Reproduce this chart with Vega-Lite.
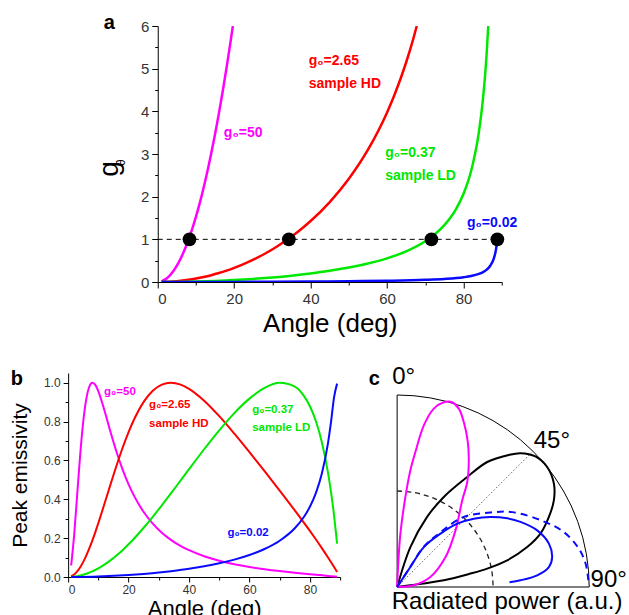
{
"$schema": "https://vega.github.io/schema/vega-lite/v6.json",
"padding": {"left": 9, "top": 12, "right": 0, "bottom": 0},
"config": {
  "view": {"stroke": null},
  "font": "Liberation Sans",
  "axis": {"grid": false, "domainColor": "#000", "tickColor": "#000", "labelColor": "#333", "titleColor": "#000", "titleFontWeight": "normal", "labelFont": "Liberation Sans", "titleFont": "Liberation Sans", "domainWidth": 1, "tickWidth": 1}
},
"datasets": {
  "gA": [
    {"series":"50","deg":1,"g":0.0152},{"series":"50","deg":2,"g":0.0609},{"series":"50","deg":3,"g":0.1371},{"series":"50","deg":4,"g":0.2439},{"series":"50","deg":5,"g":0.3813},{"series":"50","deg":6,"g":0.5493},{"series":"50","deg":7,"g":0.7482},{"series":"50","deg":8,"g":0.978},{"series":"50","deg":9,"g":1.2389},{"series":"50","deg":10,"g":1.531},{"series":"50","deg":11,"g":1.854},{"series":"50","deg":12,"g":2.2097},{"series":"50","deg":13,"g":2.597},{"series":"50","deg":14,"g":3.0159},{"series":"50","deg":15,"g":3.4675},{"series":"50","deg":16,"g":3.9519},{"series":"50","deg":17,"g":4.469},{"series":"50","deg":18,"g":5.0203},{"series":"50","deg":19,"g":5.605},{"series":"50","deg":19.65,"g":6.0},
    {"series":"2.65","deg":1,"g":0.0008},{"series":"2.65","deg":2,"g":0.0032},{"series":"2.65","deg":4,"g":0.0129},{"series":"2.65","deg":6,"g":0.0291},{"series":"2.65","deg":8,"g":0.0518},{"series":"2.65","deg":10,"g":0.0811},{"series":"2.65","deg":12,"g":0.1171},{"series":"2.65","deg":14,"g":0.1598},{"series":"2.65","deg":16,"g":0.2095},{"series":"2.65","deg":18,"g":0.2661},{"series":"2.65","deg":20,"g":0.3299},{"series":"2.65","deg":22,"g":0.4011},{"series":"2.65","deg":25,"g":0.5222},{"series":"2.65","deg":28,"g":0.6615},{"series":"2.65","deg":31,"g":0.8201},{"series":"2.65","deg":34,"g":0.9995},{"series":"2.65","deg":37,"g":1.2018},{"series":"2.65","deg":40,"g":1.4293},{"series":"2.65","deg":45,"g":1.8738},{"series":"2.65","deg":50,"g":2.4193},{"series":"2.65","deg":55,"g":3.1002},{"series":"2.65","deg":60,"g":3.975},{"series":"2.65","deg":62,"g":4.4005},{"series":"2.65","deg":65,"g":5.1505},{"series":"2.65","deg":67,"g":5.7467},{"series":"2.65","deg":67.76,"g":6.0},
    {"series":"0.37","deg":1,"g":0.0001},{"series":"0.37","deg":5,"g":0.0028},{"series":"0.37","deg":10,"g":0.0113},{"series":"0.37","deg":15,"g":0.0257},{"series":"0.37","deg":20,"g":0.0461},{"series":"0.37","deg":25,"g":0.0729},{"series":"0.37","deg":30,"g":0.1068},{"series":"0.37","deg":35,"g":0.1486},{"series":"0.37","deg":40,"g":0.1996},{"series":"0.37","deg":45,"g":0.2616},{"series":"0.37","deg":50,"g":0.3378},{"series":"0.37","deg":55,"g":0.4329},{"series":"0.37","deg":60,"g":0.555},{"series":"0.37","deg":65,"g":0.7191},{"series":"0.37","deg":70,"g":0.9553},{"series":"0.37","deg":72,"g":1.083},{"series":"0.37","deg":75,"g":1.3338},{"series":"0.37","deg":78,"g":1.7027},{"series":"0.37","deg":80,"g":2.0665},{"series":"0.37","deg":82,"g":2.6071},{"series":"0.37","deg":84,"g":3.5011},{"series":"0.37","deg":85,"g":4.213},{"series":"0.37","deg":86,"g":5.2784},{"series":"0.37","deg":86.47,"g":6.0},
    {"series":"0.02","deg":1,"g":0},{"series":"0.02","deg":10,"g":0.0006},{"series":"0.02","deg":20,"g":0.0025},{"series":"0.02","deg":30,"g":0.0058},{"series":"0.02","deg":40,"g":0.0108},{"series":"0.02","deg":50,"g":0.0183},{"series":"0.02","deg":60,"g":0.03},{"series":"0.02","deg":70,"g":0.0516},{"series":"0.02","deg":75,"g":0.0721},{"series":"0.02","deg":80,"g":0.1117},{"series":"0.02","deg":82,"g":0.1409},{"series":"0.02","deg":84,"g":0.1892},{"series":"0.02","deg":85,"g":0.2277},{"series":"0.02","deg":86,"g":0.2853},{"series":"0.02","deg":87,"g":0.3811},{"series":"0.02","deg":88,"g":0.5724},{"series":"0.02","deg":88.5,"g":0.7635},{"series":"0.02","deg":88.9,"g":1.04}
  ],
  "ruleA": [{"deg":0,"g":1},{"deg":90,"g":1}],
  "dotsA": [{"deg":8.3,"g":1},{"deg":34.3,"g":1},{"deg":71.6,"g":1},{"deg":88.85,"g":1}],
  "labA": [
    {"series":"50","deg":17.3,"g":3.40,"label":"g₀=50"},
    {"series":"2.65","deg":39.5,"g":5.09,"label":"g₀=2.65"},
    {"series":"2.65","deg":39.5,"g":4.55,"label":"sample HD"},
    {"series":"0.37","deg":59.5,"g":2.93,"label":"g₀=0.37"},
    {"series":"0.37","deg":59.5,"g":2.40,"label":"sample LD"},
    {"series":"0.02","deg":80.9,"g":1.30,"label":"g₀=0.02⠀⠀"}
  ],
  "annA": [
    {"k":"panel","deg":-14.1,"g":5.94,"label":"a"},
    {"k":"title","deg":-12.5,"g":2.65,"label":"g"},
    {"k":"sub","deg":-9.6,"g":2.80,"label":"θ"}
  ],
  "eB": [
    {"series":"50","deg":1,"e":0.0591},{"series":"50","deg":2,"e":0.2166},{"series":"50","deg":3,"e":0.4242},{"series":"50","deg":4,"e":0.6305},{"series":"50","deg":5,"e":0.7993},{"series":"50","deg":6,"e":0.9154},{"series":"50","deg":7,"e":0.9793},{"series":"50","deg":8,"e":0.9999},{"series":"50","deg":9,"e":0.9886},{"series":"50","deg":10,"e":0.956},{"series":"50","deg":12,"e":0.858},{"series":"50","deg":14,"e":0.748},{"series":"50","deg":16,"e":0.6447},{"series":"50","deg":18,"e":0.5541},{"series":"50","deg":20,"e":0.4771},{"series":"50","deg":22,"e":0.4124},{"series":"50","deg":25,"e":0.3346},{"series":"50","deg":28,"e":0.2747},{"series":"50","deg":31,"e":0.2281},{"series":"50","deg":34,"e":0.1913},{"series":"50","deg":37,"e":0.1618},{"series":"50","deg":40,"e":0.1379},{"series":"50","deg":45,"e":0.107},{"series":"50","deg":50,"e":0.0839},{"series":"50","deg":55,"e":0.0661},{"series":"50","deg":60,"e":0.0519},{"series":"50","deg":65,"e":0.0403},{"series":"50","deg":70,"e":0.0305},{"series":"50","deg":75,"e":0.022},{"series":"50","deg":80,"e":0.0142},{"series":"50","deg":84,"e":0.0084},{"series":"50","deg":87,"e":0.0042},{"series":"50","deg":89,"e":0.0014},
    {"series":"2.65","deg":1,"e":0.0032},{"series":"2.65","deg":2,"e":0.0128},{"series":"2.65","deg":3,"e":0.0287},{"series":"2.65","deg":4,"e":0.0504},{"series":"2.65","deg":5,"e":0.0777},{"series":"2.65","deg":6,"e":0.11},{"series":"2.65","deg":7,"e":0.1468},{"series":"2.65","deg":8,"e":0.1874},{"series":"2.65","deg":9,"e":0.2313},{"series":"2.65","deg":10,"e":0.2777},{"series":"2.65","deg":12,"e":0.3754},{"series":"2.65","deg":14,"e":0.4753},{"series":"2.65","deg":16,"e":0.5728},{"series":"2.65","deg":18,"e":0.664},{"series":"2.65","deg":20,"e":0.7461},{"series":"2.65","deg":22,"e":0.8173},{"series":"2.65","deg":25,"e":0.9015},{"series":"2.65","deg":28,"e":0.9585},{"series":"2.65","deg":31,"e":0.9902},{"series":"2.65","deg":34,"e":1.0},{"series":"2.65","deg":37,"e":0.9916},{"series":"2.65","deg":40,"e":0.9688},{"series":"2.65","deg":45,"e":0.9075},{"series":"2.65","deg":50,"e":0.8277},{"series":"2.65","deg":55,"e":0.7376},{"series":"2.65","deg":60,"e":0.6424},{"series":"2.65","deg":65,"e":0.5446},{"series":"2.65","deg":70,"e":0.445},{"series":"2.65","deg":75,"e":0.3431},{"series":"2.65","deg":78,"e":0.2802},{"series":"2.65","deg":80,"e":0.2371},{"series":"2.65","deg":82,"e":0.193},{"series":"2.65","deg":84,"e":0.1475},{"series":"2.65","deg":86,"e":0.1004},{"series":"2.65","deg":87,"e":0.0762},{"series":"2.65","deg":88,"e":0.0514},{"series":"2.65","deg":89,"e":0.026},
    {"series":"0.37","deg":1,"e":0.0005},{"series":"0.37","deg":3,"e":0.0041},{"series":"0.37","deg":5,"e":0.0112},{"series":"0.37","deg":8,"e":0.0285},{"series":"0.37","deg":10,"e":0.0443},{"series":"0.37","deg":12,"e":0.0633},{"series":"0.37","deg":14,"e":0.0854},{"series":"0.37","deg":16,"e":0.1104},{"series":"0.37","deg":18,"e":0.1382},{"series":"0.37","deg":20,"e":0.1684},{"series":"0.37","deg":22,"e":0.2009},{"series":"0.37","deg":25,"e":0.2534},{"series":"0.37","deg":28,"e":0.3096},{"series":"0.37","deg":31,"e":0.3687},{"series":"0.37","deg":34,"e":0.4299},{"series":"0.37","deg":37,"e":0.4922},{"series":"0.37","deg":40,"e":0.5548},{"series":"0.37","deg":45,"e":0.6575},{"series":"0.37","deg":50,"e":0.755},{"series":"0.37","deg":55,"e":0.8437},{"series":"0.37","deg":60,"e":0.9181},{"series":"0.37","deg":65,"e":0.9733},{"series":"0.37","deg":70,"e":0.9995},{"series":"0.37","deg":75,"e":0.9795},{"series":"0.37","deg":78,"e":0.9324},{"series":"0.37","deg":80,"e":0.879},{"series":"0.37","deg":82,"e":0.8015},{"series":"0.37","deg":84,"e":0.6912},{"series":"0.37","deg":86,"e":0.5356},{"series":"0.37","deg":87,"e":0.4352},{"series":"0.37","deg":88,"e":0.3154},{"series":"0.37","deg":89,"e":0.1721},
    {"series":"0.02","deg":1,"e":0.0},{"series":"0.02","deg":10,"e":0.0025},{"series":"0.02","deg":20,"e":0.0099},{"series":"0.02","deg":25,"e":0.0157},{"series":"0.02","deg":30,"e":0.0228},{"series":"0.02","deg":34,"e":0.03},{"series":"0.02","deg":40,"e":0.0422},{"series":"0.02","deg":45,"e":0.055},{"series":"0.02","deg":50,"e":0.0704},{"series":"0.02","deg":55,"e":0.0894},{"series":"0.02","deg":60,"e":0.1131},{"series":"0.02","deg":65,"e":0.1441},{"series":"0.02","deg":70,"e":0.1868},{"series":"0.02","deg":75,"e":0.2509},{"series":"0.02","deg":78,"e":0.3087},{"series":"0.02","deg":80,"e":0.3615},{"series":"0.02","deg":82,"e":0.433},{"series":"0.02","deg":84,"e":0.5352},{"series":"0.02","deg":86,"e":0.6908},{"series":"0.02","deg":87,"e":0.7992},{"series":"0.02","deg":88,"e":0.926},{"series":"0.02","deg":89,"e":0.9954}
  ],
  "labB": [
    {"series":"50","deg":11.9,"e":0.939,"label":"g₀=50"},
    {"series":"2.65","deg":26.8,"e":0.870,"label":"g₀=2.65"},
    {"series":"2.65","deg":26.8,"e":0.772,"label":"sample HD"},
    {"series":"0.37","deg":60.9,"e":0.846,"label":"g₀=0.37"},
    {"series":"0.37","deg":60.9,"e":0.751,"label":"sample LD"},
    {"series":"0.02","deg":52.7,"e":0.211,"label":"g₀=0.02"}
  ],
  "annB": [{"deg":-19,"e":0.987,"label":"b"}],
  "polar": [
    {"c":"frame","o":0,"x":0,"y":1},{"c":"frame","o":1,"x":0,"y":0},{"c":"frame","o":2,"x":1,"y":0},{"c":"frame","o":3,"x":0.99619,"y":0.08716},{"c":"frame","o":4,"x":0.98481,"y":0.17365},{"c":"frame","o":5,"x":0.96593,"y":0.25882},{"c":"frame","o":6,"x":0.93969,"y":0.34202},{"c":"frame","o":7,"x":0.90631,"y":0.42262},{"c":"frame","o":8,"x":0.86603,"y":0.5},{"c":"frame","o":9,"x":0.81915,"y":0.57358},{"c":"frame","o":10,"x":0.76604,"y":0.64279},{"c":"frame","o":11,"x":0.70711,"y":0.70711},{"c":"frame","o":12,"x":0.64279,"y":0.76604},{"c":"frame","o":13,"x":0.57358,"y":0.81915},{"c":"frame","o":14,"x":0.5,"y":0.86603},{"c":"frame","o":15,"x":0.42262,"y":0.90631},{"c":"frame","o":16,"x":0.34202,"y":0.93969},{"c":"frame","o":17,"x":0.25882,"y":0.96593},{"c":"frame","o":18,"x":0.17365,"y":0.98481},{"c":"frame","o":19,"x":0.08716,"y":0.99619},{"c":"frame","o":20,"x":0,"y":1},
    {"c":"half","o":0,"x":0.0,"y":0.5},{"c":"half","o":1,"x":0.0868,"y":0.4924},{"c":"half","o":2,"x":0.171,"y":0.4698},{"c":"half","o":3,"x":0.25,"y":0.433},{"c":"half","o":4,"x":0.3214,"y":0.383},{"c":"half","o":5,"x":0.383,"y":0.3214},{"c":"half","o":6,"x":0.433,"y":0.25},{"c":"half","o":7,"x":0.4698,"y":0.171},{"c":"half","o":8,"x":0.4924,"y":0.0868},{"c":"half","o":9,"x":0.5,"y":0.0},
    {"c":"diag","o":0,"x":0,"y":0},{"c":"diag","o":1,"x":0.70,"y":0.70},
    {"c":"mag","o":0,"x":0,"y":0},{"c":"mag","o":1,"x":0.004,"y":0.09},{"c":"mag","o":2,"x":0.017,"y":0.278},{"c":"mag","o":3,"x":0.043,"y":0.469},{"c":"mag","o":4,"x":0.069,"y":0.608},{"c":"mag","o":5,"x":0.095,"y":0.703},{"c":"mag","o":6,"x":0.139,"y":0.842},{"c":"mag","o":7,"x":0.191,"y":0.929},{"c":"mag","o":8,"x":0.243,"y":0.962},{"c":"mag","o":9,"x":0.286,"y":0.962},{"c":"mag","o":10,"x":0.321,"y":0.929},{"c":"mag","o":11,"x":0.347,"y":0.859},{"c":"mag","o":12,"x":0.368,"y":0.755},{"c":"mag","o":13,"x":0.373,"y":0.651},{"c":"mag","o":14,"x":0.365,"y":0.547},{"c":"mag","o":15,"x":0.339,"y":0.452},{"c":"mag","o":16,"x":0.304,"y":0.295},{"c":"mag","o":17,"x":0.252,"y":0.156},{"c":"mag","o":18,"x":0.173,"y":0.052},{"c":"mag","o":19,"x":0.086,"y":0.009},{"c":"mag","o":20,"x":0,"y":0},
    {"c":"blk","o":0,"x":0,"y":0},{"c":"blk","o":1,"x":0.069,"y":0.208},{"c":"blk","o":2,"x":0.156,"y":0.365},{"c":"blk","o":3,"x":0.243,"y":0.469},{"c":"blk","o":4,"x":0.365,"y":0.573},{"c":"blk","o":5,"x":0.469,"y":0.651},{"c":"blk","o":6,"x":0.581,"y":0.688},{"c":"blk","o":7,"x":0.642,"y":0.697},{"c":"blk","o":8,"x":0.72,"y":0.68},{"c":"blk","o":9,"x":0.781,"y":0.625},{"c":"blk","o":10,"x":0.816,"y":0.539},{"c":"blk","o":11,"x":0.816,"y":0.452},{"c":"blk","o":12,"x":0.79,"y":0.365},{"c":"blk","o":13,"x":0.746,"y":0.278},{"c":"blk","o":14,"x":0.677,"y":0.208},{"c":"blk","o":15,"x":0.573,"y":0.139},{"c":"blk","o":16,"x":0.469,"y":0.096},{"c":"blk","o":17,"x":0.382,"y":0.07},{"c":"blk","o":18,"x":0.243,"y":0.035},{"c":"blk","o":19,"x":0.069,"y":0.009},{"c":"blk","o":20,"x":0,"y":0},
    {"c":"blue","o":0,"x":0,"y":0},{"c":"blue","o":1,"x":0.069,"y":0.104},{"c":"blue","o":2,"x":0.139,"y":0.208},{"c":"blue","o":3,"x":0.226,"y":0.278},{"c":"blue","o":4,"x":0.3125,"y":0.33},{"c":"blue","o":5,"x":0.399,"y":0.356},{"c":"blue","o":6,"x":0.486,"y":0.365},{"c":"blue","o":7,"x":0.573,"y":0.358},{"c":"blue","o":8,"x":0.642,"y":0.339},{"c":"blue","o":9,"x":0.729,"y":0.295},{"c":"blue","o":10,"x":0.79,"y":0.226},{"c":"blue","o":11,"x":0.807,"y":0.156},{"c":"blue","o":12,"x":0.79,"y":0.104},{"c":"blue","o":13,"x":0.729,"y":0.061},{"c":"blue","o":14,"x":0.642,"y":0.035},{"c":"blue","o":15,"x":0.585,"y":0.025},
    {"c":"blued","o":0,"x":0,"y":0},{"c":"blued","o":1,"x":0.069,"y":0.106},{"c":"blued","o":2,"x":0.139,"y":0.21},{"c":"blued","o":3,"x":0.226,"y":0.285},{"c":"blued","o":4,"x":0.347,"y":0.365},{"c":"blued","o":5,"x":0.486,"y":0.388},{"c":"blued","o":6,"x":0.6,"y":0.39},{"c":"blued","o":7,"x":0.755,"y":0.345},{"c":"blued","o":8,"x":0.868,"y":0.286},{"c":"blued","o":9,"x":0.946,"y":0.2},{"c":"blued","o":10,"x":0.981,"y":0.122},{"c":"blued","o":11,"x":0.993,"y":0.056},{"c":"blued","o":12,"x":0.995,"y":0.035}
  ],
  "polarLab": [
    {"label":"0°","x":-0.026,"y":1.059},
    {"label":"45°","x":0.711,"y":0.726},
    {"label":"90°","x":1.007,"y":0.0}
  ],
  "annC": [{"x":-0.148,"y":1.05,"label":"c"}]
},
"vconcat": [
  {
    "width": 344, "height": 256,
    "encoding": {
      "x": {"field": "deg", "type": "quantitative", "scale": {"domain": [0, 90], "nice": false, "zero": false},
        "axis": {"values": [0,10,20,30,40,50,60,70,80,90], "labelExpr": "datum.value % 20 === 0 ? datum.label : ''", "tickSize": {"condition": {"test": "datum.value % 20 === 0", "value": 6}, "value": 3}, "labelFontSize": 15, "labelPadding": 3, "title": "Angle (deg)", "titleFontSize": 26, "titlePadding": 4}},
      "y": {"field": "g", "type": "quantitative", "scale": {"domain": [0, 6], "nice": false},
        "axis": {"values": [0,0.5,1,1.5,2,2.5,3,3.5,4,4.5,5,5.5,6], "labelExpr": "datum.value % 1 === 0 ? format(datum.value, 'd') : ''", "tickSize": {"condition": {"test": "datum.value % 1 === 0", "value": 6}, "value": 3}, "labelFontSize": 15, "labelPadding": 3, "title": null}}
    },
    "layer": [
      {"data": {"name": "gA"}, "mark": {"type": "line", "strokeWidth": 2.5, "interpolate": "monotone", "clip": true},
       "encoding": {"color": {"field": "series", "type": "nominal", "scale": {"domain": ["50","2.65","0.37","0.02"], "range": ["#ff00ff","#ff0000","#00e800","#0a0aff"]}, "legend": null}}},
      {"data": {"name": "ruleA"}, "mark": {"type": "line", "strokeDash": [5, 4], "strokeWidth": 1, "color": "#000"}},
      {"data": {"name": "dotsA"}, "mark": {"type": "circle", "size": 190, "color": "#000", "opacity": 1}},
      {"data": {"name": "labA"}, "mark": {"type": "text", "fontWeight": "bold", "fontSize": 14, "align": "left", "baseline": "alphabetic"},
       "encoding": {"text": {"field": "label"}, "color": {"field": "series", "type": "nominal", "legend": null}}},
      {"data": {"name": "annA"}, "transform": [{"filter": "datum.k === 'panel'"}], "mark": {"type": "text", "fontWeight": "bold", "fontSize": 20, "align": "left", "baseline": "alphabetic", "color": "#000"},
       "encoding": {"text": {"field": "label"}}},
      {"data": {"name": "annA"}, "transform": [{"filter": "datum.k === 'title'"}], "mark": {"type": "text", "fontSize": 28, "angle": 270, "align": "center", "baseline": "middle", "color": "#000"},
       "encoding": {"text": {"field": "label"}}},
      {"data": {"name": "annA"}, "transform": [{"filter": "datum.k === 'sub'"}], "mark": {"type": "text", "fontSize": 12, "angle": 270, "align": "center", "baseline": "middle", "color": "#000"},
       "encoding": {"text": {"field": "label"}}}
    ]
  },
  {
    "hconcat": [
      {
        "width": 272, "height": 204,
        "encoding": {
          "x": {"field": "deg", "type": "quantitative", "scale": {"domain": [0, 90], "nice": false, "zero": false},
            "axis": {"values": [0,10,20,30,40,50,60,70,80,90], "labelExpr": "datum.value % 20 === 0 ? datum.label : ''", "tickSize": {"condition": {"test": "datum.value % 20 === 0", "value": 5}, "value": 3}, "labelFontSize": 12, "labelPadding": 2, "title": "Angle (deg)", "titleFontSize": 22, "titlePadding": 3}},
          "y": {"field": "e", "type": "quantitative", "scale": {"domain": [0, 1.05], "nice": false},
            "axis": {"values": [0,0.1,0.2,0.3,0.4,0.5,0.6,0.7,0.8,0.9,1.0], "labelExpr": "round(datum.value*10) % 2 === 0 ? format(datum.value, '.1f') : ''", "tickSize": {"condition": {"test": "round(datum.value*10) % 2 === 0", "value": 5}, "value": 3}, "labelFontSize": 12, "labelPadding": 3, "title": "Peak emissivity", "titleFontSize": 21, "titlePadding": 13}}
        },
        "layer": [
          {"data": {"name": "eB"}, "mark": {"type": "line", "strokeWidth": 2, "interpolate": "monotone"},
           "encoding": {"color": {"field": "series", "type": "nominal", "legend": null}}},
          {"data": {"name": "labB"}, "mark": {"type": "text", "fontWeight": "bold", "fontSize": 11.5, "align": "left", "baseline": "alphabetic"},
           "encoding": {"text": {"field": "label"}, "color": {"field": "series", "type": "nominal", "legend": null}}},
          {"data": {"name": "annB"}, "mark": {"type": "text", "fontWeight": "bold", "fontSize": 20, "align": "left", "baseline": "alphabetic", "color": "#000"},
           "encoding": {"text": {"field": "label"}}}
        ]
      },
      {
        "width": 219, "height": 214,
        "encoding": {
          "x": {"field": "x", "type": "quantitative", "scale": {"domain": [0, 1.14], "nice": false, "zero": false},
            "axis": {"title": "Radiated power (a.u.)", "titleFontSize": 24, "titlePadding": 2, "domain": false, "ticks": false, "labels": false}},
          "y": {"field": "y", "type": "quantitative", "scale": {"domain": [0, 1.1146], "nice": false}, "axis": null}
        },
        "layer": [
          {"data": {"name": "polar"}, "transform": [{"filter": "datum.c === 'frame'"}], "mark": {"type": "line", "strokeWidth": 1, "color": "#000"}, "encoding": {"order": {"field": "o", "type": "quantitative"}}},
          {"data": {"name": "polar"}, "transform": [{"filter": "datum.c === 'half'"}], "mark": {"type": "line", "strokeWidth": 1.3, "color": "#222", "strokeDash": [5, 4], "interpolate": "cardinal"}, "encoding": {"order": {"field": "o", "type": "quantitative"}}},
          {"data": {"name": "polar"}, "transform": [{"filter": "datum.c === 'diag'"}], "mark": {"type": "line", "strokeWidth": 1, "color": "#666", "strokeDash": [1.5, 2]}, "encoding": {"order": {"field": "o", "type": "quantitative"}}},
          {"data": {"name": "polar"}, "transform": [{"filter": "datum.c === 'blk'"}], "mark": {"type": "line", "strokeWidth": 2, "color": "#000", "interpolate": "catmull-rom"}, "encoding": {"order": {"field": "o", "type": "quantitative"}}},
          {"data": {"name": "polar"}, "transform": [{"filter": "datum.c === 'mag'"}], "mark": {"type": "line", "strokeWidth": 2, "color": "#ff00ff", "interpolate": "catmull-rom"}, "encoding": {"order": {"field": "o", "type": "quantitative"}}},
          {"data": {"name": "polar"}, "transform": [{"filter": "datum.c === 'blued'"}], "mark": {"type": "line", "strokeWidth": 2, "color": "#0a0aff", "strokeDash": [7, 5], "interpolate": "catmull-rom"}, "encoding": {"order": {"field": "o", "type": "quantitative"}}},
          {"data": {"name": "polar"}, "transform": [{"filter": "datum.c === 'blue'"}], "mark": {"type": "line", "strokeWidth": 2, "color": "#0a0aff", "interpolate": "catmull-rom"}, "encoding": {"order": {"field": "o", "type": "quantitative"}}},
          {"data": {"name": "polarLab"}, "mark": {"type": "text", "fontSize": 24, "align": "left", "baseline": "alphabetic", "color": "#000"}, "encoding": {"text": {"field": "label"}}},
          {"data": {"name": "annC"}, "mark": {"type": "text", "fontWeight": "bold", "fontSize": 20, "align": "left", "baseline": "alphabetic", "color": "#000"}, "encoding": {"text": {"field": "label"}}}
        ]
      }
    ],
    "spacing": 27
  }
],
"center": true,
"spacing": 28
}
